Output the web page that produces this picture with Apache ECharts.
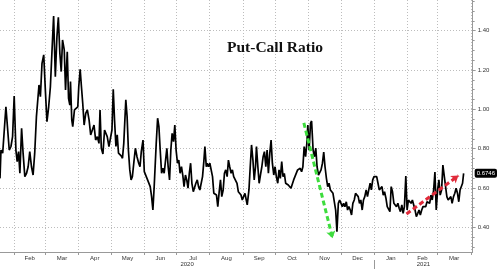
<!DOCTYPE html>
<html><head><meta charset="utf-8">
<script src="https://cdn.jsdelivr.net/npm/echarts@6/dist/echarts.min.js"></script>
<style>html,body{margin:0;padding:0;background:#fff}#c{width:500px;height:269px}</style>
</head><body><div id="c"></div>
<script>
// x values: days since 2020-01-01
const days = [
17.8,18.7,20.3,22.1,23.3,24.5,26.4,28.0,29.5,31.0,32.6,33.8,35.1,36.3,37.9,39.3,40.9,42.5,44.0,45.5,47.1,48.6,50.1,51.7,53.2,54.1,55.4,56.9,58.5,60.0,61.5,63.1,64.7,66.1,67.7,69.3,70.8,72.1,73.5,74.8,76.0,77.6,78.8,80.4,81.6,82.8,83.4,84.6,85.5,87.1,88.7,90.2,
91.1,92.4,93.6,94.8,96.1,97.6,99.1,100.7,102.2,103.7,105.3,106.8,108.4,109.9,110.9,112.1,113.6,115.1,116.4,117.6,119.2,120.7,122.0,123.2,124.4,125.7,126.9,128.1,129.4,130.6,131.8,133.0,134.9,136.1,137.3,138.6,139.8,141.0,142.3,143.8,145.3,146.9,148.1,149.3,150.9,152.1,153.4,154.6,156.2,157.6,158.9,160.1,161.3,
163.2,164.5,165.7,166.9,168.2,169.4,170.6,171.9,173.1,174.3,175.6,176.8,178.0,179.3,180.5,181.7,183.0,184.2,185.4,186.7,187.9,189.1,190.4,191.6,192.8,194.0,195.2,196.4,197.7,198.9,200.1,201.4,202.6,203.8,205.1,206.3,207.5,208.5,209.8,210.7,211.9,213.1,214.4,215.6,216.8,218.1,219.3,220.5,221.8,223.0,224.2,225.5,226.7,227.9,229.2,230.4,231.6,232.9,234.1,235.3,
237.1,238.4,239.6,240.8,242.1,243.3,244.5,245.8,247.0,247.9,249.5,250.7,251.9,253.2,254.4,255.6,256.5,257.8,259.0,260.2,261.5,262.7,263.9,265.2,266.4,267.6,268.9,270.1,271.3,272.6,273.8,275.0,276.3,277.5,278.7,280.0,281.2,282.4,283.7,284.9,286.1,287.4,288.6,289.8,291.1,292.3,293.5,294.8,296.0,297.2,298.5,299.7,300.9,302.2,303.4,304.3,305.5,306.8,307.8,
309.2,310.5,311.7,312.9,314.2,315.4,316.6,317.9,319.1,320.3,321.6,322.8,324.0,325.3,326.5,327.7,329.0,330.2,331.4,332.7,333.9,335.1,336.4,337.6,338.8,340.1,341.3,342.5,343.8,345.0,346.2,347.5,348.7,349.9,351.2,352.4,353.6,354.9,356.1,357.3,358.6,359.8,361.0,362.3,363.4,364.7,365.9,367.1,368.4,369.6,370.8,372.0,373.3,374.5,375.7,377.0,378.2,379.4,
380.7,381.9,383.1,384.4,385.6,386.8,388.1,389.3,390.5,391.8,393.0,394.2,395.5,396.7,397.9,399.2,400.4,401.6,402.9,404.1,405.3,406.6,407.8,409.0,410.3,411.5,412.7,414.0,415.2,416.4,417.7,418.9,420.1,421.4,422.6,423.8,425.1,426.3,427.5,428.8,430.0,431.2,432.5,433.7,434.9,436.2,437.4,438.6,439.9,441.1,442.3,443.6,444.8,446.0,447.3,448.3,449.3
];
const putCall = [
0.649,0.793,0.777,0.773,1.013,1.010,0.793,0.811,0.861,1.068,0.793,0.734,0.785,0.675,0.904,0.777,0.658,0.675,0.708,0.785,0.708,0.666,0.777,0.963,1.064,1.124,1.064,1.234,1.277,1.099,0.937,1.013,1.115,1.285,1.475,1.166,1.370,1.468,1.285,1.192,1.353,1.302,1.099,1.293,1.056,1.022,1.141,0.946,0.912,0.997,1.005,1.013,
1.115,1.204,1.115,1.031,0.920,0.980,0.997,0.946,0.870,0.878,0.920,0.844,0.861,0.827,0.997,0.802,0.773,0.895,0.904,0.861,0.811,0.819,0.895,1.102,0.946,0.811,0.870,0.777,0.785,0.763,0.751,0.827,1.048,0.963,0.793,0.692,0.641,0.658,0.726,0.802,0.759,0.726,0.708,0.785,0.844,0.683,0.675,0.649,0.649,0.607,0.556,0.488,0.607,
0.827,0.955,0.912,0.793,0.675,0.700,0.675,0.742,0.802,0.708,0.641,0.793,0.878,0.836,0.920,0.793,0.726,0.742,0.675,0.708,0.666,0.607,0.666,0.641,0.599,0.675,0.726,0.624,0.581,0.590,0.624,0.641,0.607,0.590,0.581,0.658,0.734,0.811,0.708,0.726,0.708,0.726,0.734,0.658,0.573,0.581,0.564,0.505,0.581,0.641,0.556,0.590,0.675,0.692,0.658,0.742,0.708,0.675,0.692,0.658,
0.658,0.624,0.581,0.573,0.564,0.539,0.556,0.573,0.539,0.514,0.590,0.708,0.819,0.742,0.641,0.708,0.811,0.708,0.624,0.666,0.708,0.759,0.785,0.708,0.793,0.675,0.777,0.844,0.726,0.666,0.708,0.658,0.624,0.692,0.649,0.734,0.658,0.675,0.624,0.632,0.615,0.607,0.599,0.590,0.641,0.658,0.666,0.692,0.683,0.700,0.683,0.708,0.811,0.759,0.827,0.920,0.793,0.929,0.941,
0.793,0.759,0.803,0.708,0.666,0.658,0.692,0.726,0.783,0.708,0.649,0.607,0.624,0.590,0.599,0.573,0.581,0.488,0.378,0.522,0.539,0.530,0.505,0.522,0.505,0.530,0.488,0.505,0.488,0.463,0.522,0.539,0.573,0.581,0.556,0.522,0.539,0.488,0.539,0.556,0.590,0.556,0.590,0.624,0.590,0.641,0.658,0.649,0.658,0.624,0.590,0.581,0.607,0.564,0.581,0.548,0.505,0.505,
0.480,0.607,0.581,0.522,0.530,0.505,0.522,0.497,0.480,0.514,0.471,0.505,0.661,0.488,0.539,0.530,0.522,0.539,0.530,0.488,0.454,0.471,0.488,0.463,0.488,0.505,0.497,0.505,0.530,0.539,0.522,0.564,0.539,0.590,0.681,0.488,0.590,0.641,0.564,0.590,0.717,0.726,0.607,0.556,0.539,0.530,0.556,0.522,0.556,0.573,0.599,0.573,0.530,0.590,0.581,0.624,0.6746
];
const monthStarts = [31,60,91,121,152,182,213,244,274,305,335,366,397,425,456];
const monthNames = ['Feb','Mar','Apr','May','Jun','Jul','Aug','Sep','Oct','Nov','Dec','Jan','Feb','Mar'];
const yearNames = ['2020','2021'];
const yearBoundary = 366;
const yTickValues = [0.4,0.6,0.8,1.0,1.2,1.4];
const lastValue = 0.6746;
const chartTitle = 'Put-Call Ratio';
const greenArrow = [[300.6,0.931],[327.3,0.345]];
const redArrow = [[396.1,0.468],[444.5,0.663]];
const xMin = 17.8, xMax = 457.7, yMin = 0.2745, yMax = 1.556;

const monthLabelVals = [];
for (let i = 0; i < monthNames.length; i++) monthLabelVals.push((monthStarts[i] + monthStarts[i+1]) / 2);
const yearLabelVals = [(xMin + yearBoundary) / 2, (yearBoundary + xMax) / 2];
const minorTicks = [];
for (let k = 6; k <= 31; k++) minorTicks.push(+(k * 0.05).toFixed(2));

const labelFont = {fontFamily: 'Liberation Sans', fontSize: 6, color: '#333'};
const gridLine = {show: true, lineStyle: {type: [1, 2], color: '#bdbdbd', width: 1}};

const chart = echarts.init(document.getElementById('c'), null, {renderer: 'canvas'});
chart.setOption({
  animation: false,
  title: {text: chartTitle, left: 222, top: 35,
    textStyle: {fontFamily: 'Liberation Serif', fontWeight: 'bold', fontSize: 15.5, color: '#111'}},
  grid: {left: 0, right: 24, top: 0, bottom: 17},
  xAxis: [
    {type: 'value', min: xMin, max: xMax, position: 'bottom',
     axisLine: {show: true, lineStyle: {color: '#999', width: 1}},
     axisTick: {show: true, customValues: monthStarts, length: 3, lineStyle: {color: '#999'}},
     axisLabel: Object.assign({customValues: monthLabelVals, margin: 3,
       formatter: v => { const i = monthLabelVals.findIndex(m => Math.abs(m - v) < 0.01); return i >= 0 ? monthNames[i] : ''; }}, labelFont),
     splitLine: gridLine},
    {type: 'value', min: xMin, max: xMax, position: 'bottom', offset: 8,
     axisLine: {show: false},
     axisTick: {show: true, customValues: [yearBoundary], length: 9, lineStyle: {color: '#999'}},
     axisLabel: Object.assign({customValues: yearLabelVals, margin: 1,
       formatter: v => { const i = yearLabelVals.findIndex(m => Math.abs(m - v) < 0.01); return i >= 0 ? yearNames[i] : ''; }}, labelFont),
     splitLine: {show: false}}
  ],
  yAxis: [
    {type: 'value', min: yMin, max: yMax, position: 'right',
     axisLine: {show: true, lineStyle: {color: '#999', width: 1}},
     axisTick: {show: true, customValues: yTickValues, length: 3, lineStyle: {color: '#999'}},
     axisLabel: Object.assign({customValues: yTickValues, margin: 5, formatter: v => v.toFixed(2)}, labelFont),
     splitLine: gridLine},
    {type: 'value', min: yMin, max: yMax, position: 'right',
     axisLine: {show: false},
     axisTick: {show: true, customValues: minorTicks, length: 2, lineStyle: {color: '#999'}},
     axisLabel: {customValues: [lastValue], margin: 2, formatter: v => v.toFixed(4),
       fontFamily: 'Liberation Sans', fontSize: 6, color: '#fff', backgroundColor: '#000',
       padding: [2, 2, 1, 2], borderRadius: 2},
     splitLine: {show: false}}
  ],
  series: [{
    type: 'line', xAxisIndex: 0, yAxisIndex: 0,
    data: days.map((d, i) => [d, putCall[i]]),
    showSymbol: false, symbol: 'none',
    lineStyle: {color: '#000', width: 1.7},
    silent: true,
    markLine: {
      silent: true, animation: false,
      symbol: ['none', 'arrow'], symbolSize: 7,
      label: {show: false},
      lineStyle: {type: [5, 3], width: 3},
      data: [
        [{coord: greenArrow[0], lineStyle: {color: '#3ddc3d', type: [5, 3], width: 3}, itemStyle: {color: '#3ddc3d'}}, {coord: greenArrow[1]}],
        [{coord: redArrow[0], lineStyle: {color: '#e02a3a', type: [5, 3], width: 3}, itemStyle: {color: '#e02a3a'}}, {coord: redArrow[1]}]
      ]
    }
  }]
});
</script></body></html>
